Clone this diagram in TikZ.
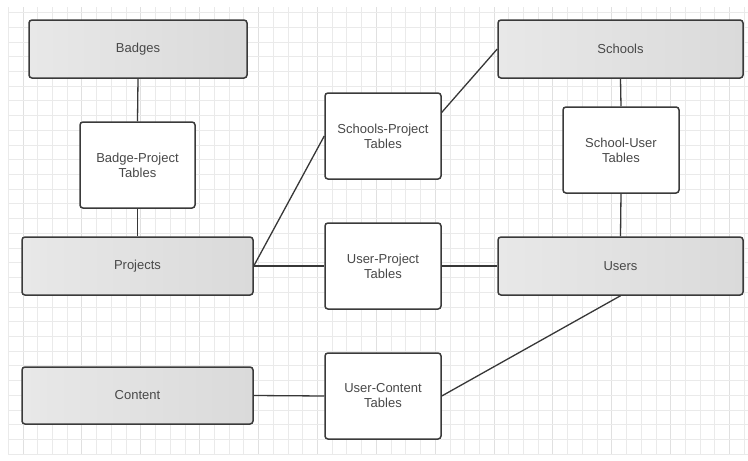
\documentclass[tikz,border=0pt]{standalone}
\usepackage{fontspec}
\setmainfont{Liberation Sans}
\usetikzlibrary{calc}
\definecolor{gridc}{RGB}{234,234,234}
\definecolor{gridmaj}{RGB}{224,224,224}
\definecolor{boxline}{RGB}{58,58,58}
\definecolor{txtc}{RGB}{72,72,72}
\definecolor{shadeL}{RGB}{232,232,232}
\definecolor{shadeR}{RGB}{218,218,218}
\begin{document}
\begin{tikzpicture}[x=1pt,y=-1pt,
  entity/.style={draw=boxline, line width=1.5pt, rounded corners=3pt,
    left color=shadeL, right color=shadeR, text=txtc,
    minimum width=#1, minimum height=58pt, inner sep=0pt,
    font=\fontsize{13}{15}\selectfont, align=center},
  entity/.default=231pt,
  linkbox/.style={draw=boxline, line width=1.5pt, rounded corners=3pt,
    fill=white, text=txtc, minimum width=116pt, minimum height=86pt,
    inner sep=0pt, font=\fontsize{13}{15}\selectfont, align=center},
  conn/.style={draw=boxline!95!black, line width=1.3pt}]
\useasboundingbox (0,0) rectangle (748,461);
\fill[white] (0,0) rectangle (748,461);
% grid
\foreach \i in {0,...,50}{
  \pgfmathtruncatemacro{\m}{mod(\i,4)}
  \ifnum\m=1
    \draw[gridmaj, line width=0.9pt] ({8.3+\i*14.72},7) -- ({8.3+\i*14.72},455);
  \else
    \draw[gridc, line width=0.8pt] ({8.3+\i*14.72},7) -- ({8.3+\i*14.72},455);
  \fi
}
\foreach \j in {0,...,30}{
  \draw[gridc, line width=0.8pt] (8,{12.5+\j*14.72}) -- (748,{12.5+\j*14.72});
}
% entities
\node[entity=218pt] (badges) at (138,49) {Badges};
\node[entity=231pt] (projects) at (137.5,266) {Projects};
\node[entity=231pt, minimum height=57pt] (content) at (137.5,395.5) {Content};
\node[entity=245pt] (schools) at (620.5,49) {Schools};
\node[entity=245pt] (users) at (620.5,266) {Users};
% link tables
\node[linkbox, minimum width=115pt] (bp) at (137.5,165) {Badge-Project\\Tables};
\node[linkbox] (sp) at (383,136) {Schools-Project\\Tables};
\node[linkbox] (up) at (383,266) {User-Project\\Tables};
\node[linkbox] (su) at (621,150) {School-User\\Tables};
\node[linkbox] (uc) at (383,396) {User-Content\\Tables};
\coordinate (spe) at ($(sp.north east)!0.23!(sp.south east)$);
% connectors
\draw[conn] (badges.south) -- (bp.north);
\draw[conn] (bp.south) -- (projects.north);
\draw[conn] (projects.east) -- (sp.west);
\draw[conn] (spe) -- (schools.west);
\draw[conn] (projects.east) -- (up.west);
\draw[conn] (up.east) -- (users.west);
\draw[conn] (schools.south) -- (su.north);
\draw[conn] (su.south) -- (users.north);
\draw[conn] (content.east) -- (uc.west);
\draw[conn] (uc.east) -- (users.south);
\end{tikzpicture}
\end{document}
